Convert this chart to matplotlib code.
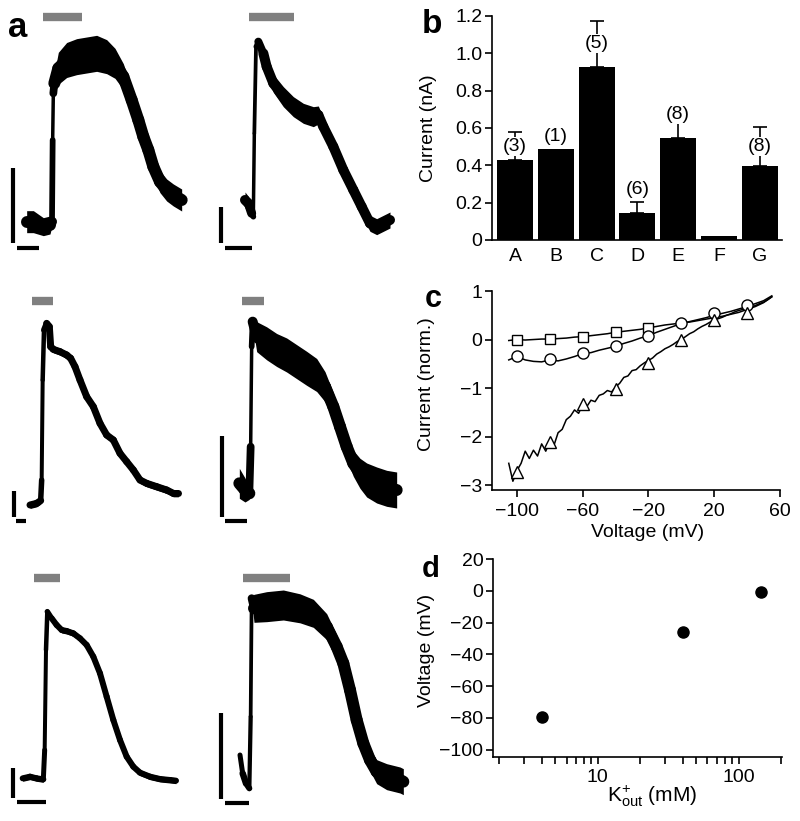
import numpy as np
import matplotlib
matplotlib.use('Agg')
import matplotlib.pyplot as plt
from matplotlib.collections import LineCollection
from matplotlib.ticker import FixedLocator, FuncFormatter, NullFormatter, LogLocator

plt.rcParams['font.family'] = ['Liberation Sans', 'DejaVu Sans']
plt.rcParams['mathtext.fontset'] = 'custom'
plt.rcParams['mathtext.rm'] = 'Liberation Sans'
plt.rcParams['mathtext.it'] = 'Liberation Sans:italic'
plt.rcParams['axes.unicode_minus'] = True

# ---------------- data: panel a (traces, in trace units: time, amplitude; w = noise band height, px) -------------
tr1_t = [80, 100, 130, 150, 156, 158, 160, 163, 175, 200, 230, 260, 290, 320, 345, 370, 395, 415, 430, 445, 460, 480, 500, 520, 545]
tr1_v = [55, 55, 40, 45, 55, 300, 440, 470, 515, 540, 550, 555, 560, 550, 530, 490, 420, 360, 310, 270, 220, 175, 150, 135, 120]
tr1_w = [22, 22, 18, 18, 8, 3.5, 3.5, 20, 32, 35, 36, 36, 36, 34, 30, 26, 24, 22, 22, 22, 22, 22, 22, 22, 22]

tr2_t = [735, 745, 755, 760, 763, 768, 775, 790, 800, 820, 850, 880, 910, 940, 955, 970, 1000, 1030, 1060, 1085, 1110, 1130, 1160, 1170]
tr2_v = [120, 110, 80, 70, 320, 580, 595, 560, 520, 470, 430, 400, 380, 370, 375, 340, 280, 210, 150, 100, 50, 40, 55, 60]
tr2_w = [16, 14, 8, 3.5, 3.5, 4, 6, 12, 16, 18, 20, 20, 20, 20, 18, 18, 18, 18, 18, 18, 16, 16, 16, 16]

tr3_t = [90, 110, 122, 125, 128, 132, 140, 148, 152, 160, 180, 200, 212, 225, 240, 260, 280, 300, 320, 340, 360, 380, 400, 420, 440, 470, 500, 520, 535]
tr3_v = [45, 50, 58, 120, 420, 570, 590, 580, 520, 512, 505, 495, 485, 460, 420, 370, 340, 290, 255, 240, 200, 175, 150, 120, 110, 100, 90, 80, 80]
tr3_w = [7, 7, 7, 4, 4, 5, 7, 7, 7, 7, 7, 7, 7, 7, 7, 7, 7, 7, 7, 7, 7, 7, 7, 7, 7, 7, 7, 7, 7]

tr4_t = [718, 735, 748, 752, 755, 758, 770, 800, 830, 860, 890, 920, 950, 975, 1000, 1020, 1040, 1060, 1080, 1100, 1130, 1160, 1190]
tr4_v = [110, 90, 80, 220, 520, 595, 550, 530, 510, 495, 475, 455, 435, 400, 340, 280, 220, 170, 140, 120, 105, 95, 90]
tr4_w = [30, 24, 12, 3.5, 3.5, 8, 30, 33, 33, 34, 34, 34, 33, 30, 28, 26, 26, 26, 30, 34, 36, 36, 36]

tr5_t = [68, 90, 110, 130, 134, 138, 142, 155, 170, 185, 200, 220, 240, 260, 280, 300, 320, 340, 360, 380, 400, 420, 450, 480, 510, 528]
tr5_v = [35, 40, 35, 32, 120, 420, 535, 515, 495, 480, 477, 470, 455, 435, 400, 350, 280, 210, 150, 100, 70, 52, 40, 33, 30, 28]
tr5_w = [6, 6, 6, 6, 4, 4, 5, 6, 6, 6, 6, 6, 6, 6, 6, 6, 6, 6, 6, 6, 6, 6, 6, 6, 6, 6]

tr6_t = [720, 728, 738, 748, 752, 755, 762, 800, 850, 900, 940, 980, 1010, 1030, 1050, 1070, 1090, 1110, 1130, 1160, 1200, 1210]
tr6_v = [105, 50, 20, 5, 220, 575, 545, 550, 555, 545, 530, 490, 430, 380, 300, 210, 140, 90, 55, 40, 30, 25]
tr6_w = [4, 6, 7, 5, 3.5, 4, 28, 30, 30, 29, 28, 26, 24, 22, 20, 20, 20, 22, 24, 26, 26, 26]

# ---------------- data: panel b ----------------
bar_cats = ['A', 'B', 'C', 'D', 'E', 'F', 'G']
bar_vals = [0.43, 0.486, 0.925, 0.143, 0.546, 0.021, 0.398]
bar_errs = [0.147, 0.0, 0.25, 0.061, 0.15, 0.0, 0.206]
bar_n = ['(3)', '(1)', '(5)', '(6)', '(8)', '', '(8)']

# ---------------- data: panel c ----------------
grid5 = [-105, -100, -95, -90, -85, -80, -75, -70, -65, -60, -55, -50, -45, -40, -35, -30, -25,
         -20, -15, -10, -5, 0, 5, 10, 15, 20, 25, 30, 35, 40, 45, 50, 55]
sq_line = [-0.02, 0.0, -0.01, 0.0, 0.01, 0.01, 0.02, 0.03, 0.05, 0.06, 0.08, 0.10, 0.12, 0.15, 0.17, 0.19, 0.21,
           0.24, 0.27, 0.30, 0.32, 0.34, 0.36, 0.39, 0.42, 0.45, 0.48, 0.52, 0.56, 0.62, 0.68, 0.76, 0.88]
ci_line = [-0.42, -0.35, -0.42, -0.45, -0.46, -0.42, -0.44, -0.40, -0.35, -0.29, -0.27, -0.22, -0.18, -0.14, -0.08, -0.03, 0.03,
           0.08, 0.15, 0.21, 0.27, 0.33, 0.37, 0.41, 0.45, 0.50, 0.54, 0.58, 0.63, 0.68, 0.74, 0.80, 0.90]
grid25 = [-105, -102.5, -100, -97.5, -95, -92.5, -90, -87.5, -85, -82.5, -80, -77.5, -75, -72.5, -70, -67.5,
          -65, -62.5, -60, -57.5, -55, -52.5, -50, -47.5, -45, -42.5, -40, -37.5, -35, -32.5, -30, -27.5,
          -25, -22.5, -20, -17.5, -15, -12.5, -10, -7.5, -5, -2.5, 0, 2.5, 5, 7.5, 10, 12.5,
          15, 17.5, 20, 22.5, 25, 27.5, 30, 32.5, 35, 37.5, 40, 42.5, 45, 47.5, 50, 52.5, 55]
tri_line = [-2.55, -2.92, -2.70, -2.55, -2.30, -2.45, -2.28, -2.40, -2.15, -2.30, -2.10, -2.18, -1.92, -1.85, -1.65, -1.58,
            -1.45, -1.52, -1.33, -1.38, -1.25, -1.28, -1.15, -1.12, -1.05, -1.08, -0.98, -0.90, -0.78, -0.75, -0.64, -0.62,
            -0.54, -0.48, -0.43, -0.38, -0.30, -0.25, -0.19, -0.15, -0.10, -0.04, 0.00, 0.06, 0.12, 0.16, 0.22, 0.27,
            0.31, 0.36, 0.41, 0.43, 0.46, 0.50, 0.53, 0.57, 0.60, 0.62, 0.65, 0.67, 0.70, 0.74, 0.77, 0.82, 0.88]
sq_mk_v = [-100, -80, -60, -40, -20]
sq_mk_i = [0.0, 0.01, 0.06, 0.15, 0.24]
ci_mk_v = [-100, -80, -60, -40, -20, 0, 20, 40]
ci_mk_i = [-0.33, -0.40, -0.28, -0.14, 0.08, 0.34, 0.55, 0.72]
tri_mk_v = [-100, -80, -60, -40, -20, 0, 20, 40]
tri_mk_i = [-2.72, -2.12, -1.33, -1.02, -0.48, 0.0, 0.41, 0.55]

# ---------------- data: panel d ----------------
k_out = [4, 40, 144]
v_rev = [-79.4, -26.2, -0.8]
v_err = [3.0, 1.0, 2.0]

# ---------------- figure ----------------
W, H = 800, 821
fig = plt.figure(figsize=(W / 100, H / 100), dpi=100)


def px_axes(l, t, r, b):
    return fig.add_axes([l / W, 1 - b / H, (r - l) / W, (b - t) / H])


FS = 14

# ---------- panel a ----------
axa = fig.add_axes([0, 0, 410 / W, 1])
axa.set_xlim(0, 410)
axa.set_ylim(H, 0)
axa.axis('off')

# layout per trace: origin (px), max stroke width (px), stim bar (x0, x1, y), vertical scale bar (x, y0, y1), horizontal bar (x0, x1, y)
traces = [
    dict(t=tr1_t, v=tr1_v, w=tr1_w, o=(0, 0), lmax=12, stim=(130, 245, 50), vb=(40, 505, 730), hb=(50, 118, 743)),
    dict(t=tr2_t, v=tr2_v, w=tr2_w, o=(0, 0), lmax=10, stim=(748, 882, 50), vb=(663, 620, 728), hb=(675, 755, 743)),
    dict(t=tr3_t, v=tr3_v, w=tr3_w, o=(0, 280), lmax=7, stim=(95, 158, 63), vb=(42, 633, 710), hb=(48, 78, 722)),
    dict(t=tr4_t, v=tr4_v, w=tr4_w, o=(0, 280), lmax=12, stim=(726, 792, 63), vb=(665, 468, 710), hb=(675, 740, 722)),
    dict(t=tr5_t, v=tr5_v, w=tr5_w, o=(0, 550), lmax=6.5, stim=(103, 180, 85), vb=(40, 655, 745), hb=(50, 138, 757)),
    dict(t=tr6_t, v=tr6_v, w=tr6_w, o=(0, 550), lmax=12, stim=(728, 870, 85), vb=(662, 490, 748), hb=(675, 748, 760)),
]
for tr in traces:
    ox, oy = tr['o']
    x = np.array(tr['t']) / 3 + ox
    y = oy + (720 - np.array(tr['v'])) / 3
    w = np.array(tr['w'], dtype=float)
    # vertical noise band
    axa.fill_between(x, y - w / 2, y + w / 2, color='black', lw=0)
    # stroke of the trace itself
    pts = np.column_stack([x, y])
    segs = np.stack([pts[:-1], pts[1:]], axis=1)
    lw_px = np.minimum(w, tr['lmax'])
    seg_w = (lw_px[:-1] + lw_px[1:]) / 2 * 0.72
    lc = LineCollection(segs, linewidths=seg_w, colors='black', capstyle='round', joinstyle='round')
    axa.add_collection(lc)
    s0, s1, sy = tr['stim']
    axa.plot([ox + s0 / 3, ox + s1 / 3], [oy + sy / 3] * 2, color='#808080', lw=6, solid_capstyle='butt')
    vx, vy0, vy1 = tr['vb']
    axa.plot([ox + vx / 3] * 2, [oy + vy0 / 3, oy + vy1 / 3], color='black', lw=3, solid_capstyle='butt')
    hx0, hx1, hy = tr['hb']
    axa.plot([ox + hx0 / 3, ox + hx1 / 3], [oy + hy / 3] * 2, color='black', lw=3, solid_capstyle='butt')


def style(ax):
    for s in ['top', 'right']:
        ax.spines[s].set_visible(False)
    for s in ['left', 'bottom']:
        ax.spines[s].set_linewidth(1.2)
    ax.tick_params(direction='out', length=5, width=1.2, labelsize=FS, pad=2)


# ---------- panel b ----------
axb = px_axes(492, 16, 782, 240)
style(axb)
xb = np.arange(len(bar_cats))
axb.bar(xb, bar_vals, width=0.88, color='black', zorder=2)
for i in range(len(bar_cats)):
    if bar_errs[i] > 0:
        axb.errorbar(xb[i], bar_vals[i], yerr=[[0], [bar_errs[i]]], fmt='none', ecolor='black',
                     elinewidth=1.2, capsize=5, capthick=1.2, zorder=2)
label_y = [0.50, 0.553, 1.054, 0.268, 0.67, None, 0.50]
for i, lab in enumerate(bar_n):
    if lab:
        axb.text(xb[i], label_y[i], lab, ha='center', va='center', fontsize=FS, zorder=5,
                 bbox=dict(facecolor='white', edgecolor='none', pad=0.5))
axb.set_xlim(-0.57, 6.55)
axb.set_ylim(0, 1.2)
axb.set_xticks(xb)
axb.set_xticklabels(bar_cats)
axb.tick_params(axis='x', length=0, pad=6)
axb.yaxis.set_major_locator(FixedLocator([0, 0.2, 0.4, 0.6, 0.8, 1.0, 1.2]))
axb.yaxis.set_major_formatter(FuncFormatter(lambda v, p: '0' if abs(v) < 1e-9 else f'{v:.1f}'))
axb.set_ylabel('Current (nA)', fontsize=FS)
axb.yaxis.set_label_coords(-0.19, 0.5)

# ---------- panel c ----------
axc = px_axes(492, 291, 780, 490)
style(axc)
axc.plot(grid5, sq_line, color='black', lw=1.1)
axc.plot(grid5, ci_line, color='black', lw=1.1)
axc.plot(grid25, tri_line, color='black', lw=1.1)
axc.plot(sq_mk_v, sq_mk_i, 's', ms=7.5, mfc='white', mec='black', mew=1.0, zorder=4)
axc.plot(ci_mk_v, ci_mk_i, 'o', ms=8, mfc='white', mec='black', mew=1.0, zorder=4)
axc.plot(tri_mk_v, tri_mk_i, '^', ms=8, mfc='white', mec='black', mew=1.0, zorder=4)
axc.set_xlim(-115.2, 60)
axc.set_ylim(-3.1, 1.0)
axc.set_xticks([-100, -60, -20, 20, 60])
axc.set_yticks([1, 0, -1, -2, -3])
axc.tick_params(axis='x', pad=4)
axc.set_ylabel('Current (norm.)', fontsize=FS)
axc.yaxis.set_label_coords(-0.198, 0.53)
axc.set_xlabel('Voltage (mV)', fontsize=FS)
axc.xaxis.set_label_coords(0.54, -0.216)
axc.xaxis.label.set_va('center')

# ---------- panel d ----------
axd = px_axes(493, 559, 782, 757)
style(axd)
axd.set_xscale('log')
axd.errorbar(k_out, v_rev, yerr=v_err, fmt='o', ms=8, color='black', ecolor='black', elinewidth=1.5, capsize=0)
axd.set_xlim(1.8, 203)
axd.set_ylim(-104.7, 20)
axd.set_yticks([20, 0, -20, -40, -60, -80, -100])
axd.xaxis.set_major_locator(FixedLocator([10, 100]))
axd.xaxis.set_major_formatter(FuncFormatter(lambda v, p: f'{v:g}'))
axd.xaxis.set_minor_locator(LogLocator(base=10, subs=np.arange(2, 10)))
axd.xaxis.set_minor_formatter(NullFormatter())
axd.tick_params(axis='x', which='minor', length=5, width=1.2, direction='out')
axd.tick_params(axis='x', which='major', length=5, pad=4)
axd.set_ylabel('Voltage (mV)', fontsize=FS)
axd.yaxis.set_label_coords(-0.2, 0.54)
axd.set_xlabel(r'K$^{+}_{\mathrm{out}}$ (mM)', fontsize=FS + 1)
axd.xaxis.set_label_coords(0.55, -0.2)
axd.xaxis.label.set_va('center')

# ---------- panel letters ----------
for lab, x, y, fs in [('a', 8, 37, 25), ('b', 422, 33, 24), ('c', 425, 307, 22), ('d', 422, 577, 21)]:
    fig.text(x / W, 1 - y / H, lab, fontsize=fs, fontweight='bold', ha='left', va='baseline')

fig.savefig('out.png', dpi=100)
